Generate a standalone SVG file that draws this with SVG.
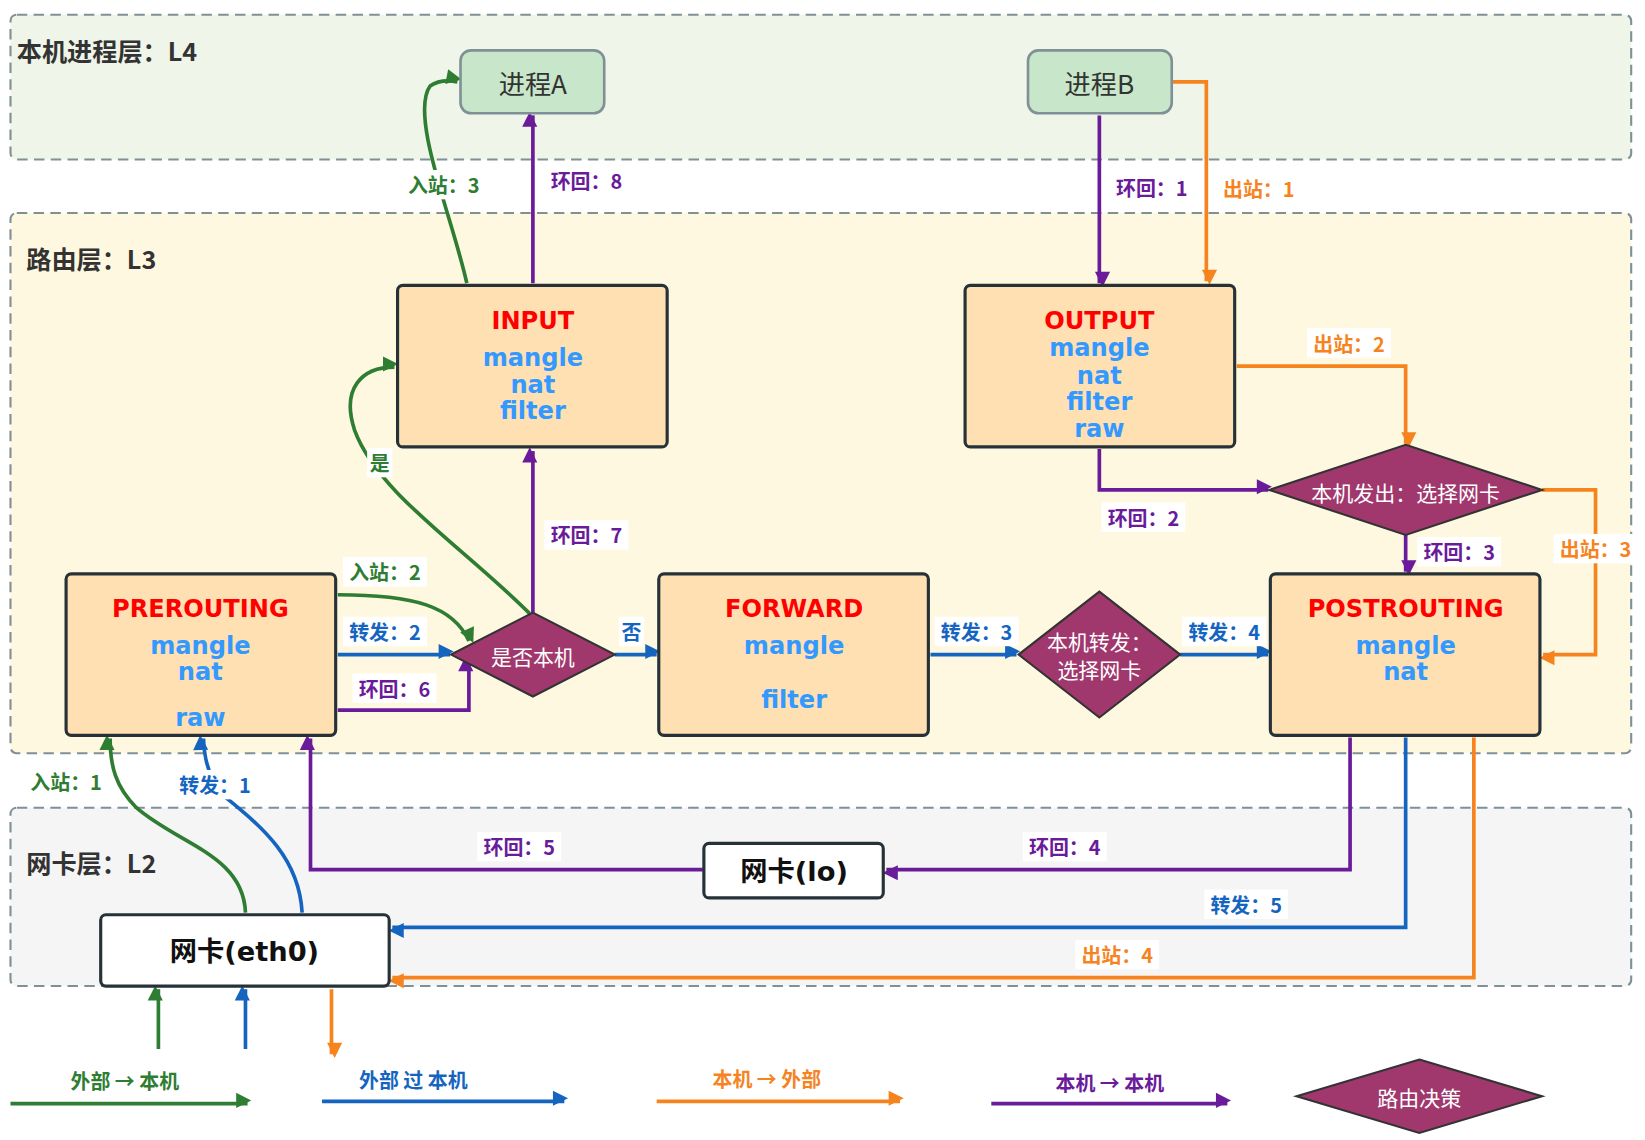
<svg xmlns="http://www.w3.org/2000/svg" width="1645" height="1140" viewBox="0 0 1645 1140">
<style>
.layer{stroke:#7f9096;stroke-width:2;stroke-dasharray:10 6}
.lt{font-family:"Noto Sans CJK SC",sans-serif;font-weight:bold;font-size:24px;fill:#333}
.box{fill:#ffe0b2;stroke:#263238;stroke-width:3}
.t{font-family:"DejaVu Sans",sans-serif;font-weight:bold;font-size:23px;text-anchor:middle;dominant-baseline:central}
.r{fill:#ff0000}.b{fill:#3399ff}
.dia{fill:#a0386e;stroke:#333;stroke-width:2}
.dt{font-family:"Noto Sans CJK SC",sans-serif;font-size:20px;fill:#fff;text-anchor:middle;dominant-baseline:central}
.lb{font-family:"Noto Sans CJK SC",sans-serif;font-weight:bold;font-size:19px;text-anchor:middle;dominant-baseline:central}
.bg{fill:#fff}
.c{fill:none;stroke-width:3.5}
.g{stroke:#2e7d32}.bl{stroke:#1565c0}.o{stroke:#f5841f}.p{stroke:#6a1b9a}
.fg{fill:#2e7d32}.fbl{fill:#1565c0}.fo{fill:#f5841f}.fp{fill:#6a1b9a}
</style>
<defs>
<marker id="ag" viewBox="0 0 10 10" refX="9" refY="5" markerWidth="6" markerHeight="6" markerUnits="userSpaceOnUse" orient="auto" style="overflow:visible"><path d="M0,0L10,5L0,10z" fill="#2e7d32" transform="scale(2.4) translate(-5,-5) translate(1.2,0)"/></marker>
<marker id="ab" viewBox="0 0 10 10" refX="9" refY="5" markerWidth="6" markerHeight="6" markerUnits="userSpaceOnUse" orient="auto" style="overflow:visible"><path d="M0,0L10,5L0,10z" fill="#1565c0" transform="scale(2.4) translate(-5,-5) translate(1.2,0)"/></marker>
<marker id="ao" viewBox="0 0 10 10" refX="9" refY="5" markerWidth="6" markerHeight="6" markerUnits="userSpaceOnUse" orient="auto" style="overflow:visible"><path d="M0,0L10,5L0,10z" fill="#f5841f" transform="scale(2.4) translate(-5,-5) translate(1.2,0)"/></marker>
<marker id="ap" viewBox="0 0 10 10" refX="9" refY="5" markerWidth="6" markerHeight="6" markerUnits="userSpaceOnUse" orient="auto" style="overflow:visible"><path d="M0,0L10,5L0,10z" fill="#6a1b9a" transform="scale(2.4) translate(-5,-5) translate(1.2,0)"/></marker>
</defs>
<rect width="1645" height="1140" fill="#fff"/>
<g transform="scale(1.049)">
<g id="layers">
<rect class="layer" x="10" y="14" width="1545" height="138" rx="6" fill="#eff5e8"/>
<text class="lt" x="16" y="58">本机进程层：L4</text>
<rect class="layer" x="10" y="203" width="1545" height="515" rx="6" fill="#fff8e1"/>
<text class="lt" x="25" y="256">路由层：L3</text>
<rect class="layer" x="10" y="770" width="1545" height="170" rx="6" fill="#f5f5f5"/>
<text class="lt" x="25" y="832">网卡层：L2</text>
</g>
<g id="connectors">
<path class="c g" d="M445,270 C432,210 390,110 410,82 Q420,75 436,78" marker-end="url(#ag)"/>
<path class="c p" d="M508,270 V110" marker-end="url(#ap)"/>
<path class="c p" d="M1048,110 V270" marker-end="url(#ap)"/>
<path class="c o" d="M1117,78 H1150 V268" marker-end="url(#ao)"/>
<path class="c o" d="M1179,349 H1340 V423" marker-end="url(#ao)"/>
<path class="c p" d="M1048,428 V467 H1209" marker-end="url(#ap)"/>
<path class="c p" d="M1340,510 V545" marker-end="url(#ap)"/>
<path class="c o" d="M1470,467 H1521 V624 H1471" marker-end="url(#ao)"/>
<path class="c bl" d="M1125,624 H1209" marker-end="url(#ab)"/>
<path class="c bl" d="M887,624 H969" marker-end="url(#ab)"/>
<path class="c bl" d="M586,624 H626" marker-end="url(#ab)"/>
<path class="c p" d="M508,584 V430" marker-end="url(#ap)"/>
<path class="c g" d="M505,585 C440,520 360,470 338,410 C325,370 345,350 376,350" marker-end="url(#ag)"/>
<path class="c g" d="M322,567 C395,567 432,578 447,611" marker-end="url(#ag)"/>
<path class="c bl" d="M322,624 H429" marker-end="url(#ab)"/>
<path class="c p" d="M322,677 H447 V629" marker-end="url(#ap)"/>
<path class="c g" d="M234,870 C232,815 170,805 130,770 C110,750 105,730 105,704" marker-end="url(#ag)"/>
<path class="c bl" d="M288,870 C285,815 245,785 215,760 Q195,740 194,704" marker-end="url(#ab)"/>
<path class="c p" d="M670,829 H296 V704" marker-end="url(#ap)"/>
<path class="c p" d="M1287,703 V829 H845" marker-end="url(#ap)"/>
<path class="c bl" d="M1340,703 V884 H374" marker-end="url(#ab)"/>
<path class="c o" d="M1405,703 V932 H374" marker-end="url(#ao)"/>
<path class="c g" d="M151,1000 V943" marker-end="url(#ag)"/>
<path class="c bl" d="M234,1000 V943" marker-end="url(#ab)"/>
<path class="c o" d="M316,943 V1005" marker-end="url(#ao)"/>
<path class="c g" d="M10,1052 H236" marker-end="url(#ag)"/>
<path class="c bl" d="M307,1050 H538" marker-end="url(#ab)"/>
<path class="c o" d="M626,1050 H858" marker-end="url(#ao)"/>
<path class="c p" d="M945,1052 H1170" marker-end="url(#ap)"/>
</g>
<g id="labels">
<rect class="bg" x="383" y="162" width="80" height="28"/><text class="lb fg" x="423" y="176">入站：3</text>
<rect class="bg" x="519" y="158" width="80" height="28"/><text class="lb fp" x="559" y="172">环回：8</text>
<rect class="bg" x="1058" y="165" width="80" height="28"/><text class="lb fp" x="1098" y="179">环回：1</text>
<rect class="bg" x="1160" y="166" width="80" height="28"/><text class="lb fo" x="1200" y="180">出站：1</text>
<rect class="bg" x="1246" y="313" width="80" height="28"/><text class="lb fo" x="1286" y="327">出站：2</text>
<rect class="bg" x="1050" y="479" width="80" height="28"/><text class="lb fp" x="1090" y="493">环回：2</text>
<rect class="bg" x="1351" y="512" width="80" height="28"/><text class="lb fp" x="1391" y="526">环回：3</text>
<rect class="bg" x="1481" y="509" width="80" height="28"/><text class="lb fo" x="1521" y="523">出站：3</text>
<rect class="bg" x="1127" y="588" width="80" height="28"/><text class="lb fbl" x="1167" y="602">转发：4</text>
<rect class="bg" x="891" y="588" width="80" height="28"/><text class="lb fbl" x="931" y="602">转发：3</text>
<rect class="bg" x="590" y="588" width="24" height="28"/><text class="lb fbl" x="602" y="602">否</text>
<rect class="bg" x="519" y="496" width="80" height="28"/><text class="lb fp" x="559" y="510">环回：7</text>
<rect class="bg" x="350" y="427" width="24" height="28"/><text class="lb fg" x="362" y="441">是</text>
<rect class="bg" x="327" y="531" width="80" height="28"/><text class="lb fg" x="367" y="545">入站：2</text>
<rect class="bg" x="327" y="588" width="80" height="28"/><text class="lb fbl" x="367" y="602">转发：2</text>
<rect class="bg" x="336" y="642" width="80" height="28"/><text class="lb fp" x="376" y="656">环回：6</text>
<rect class="bg" x="23" y="731" width="80" height="28"/><text class="lb fg" x="63" y="745">入站：1</text>
<rect class="bg" x="165" y="734" width="80" height="28"/><text class="lb fbl" x="205" y="748">转发：1</text>
<rect class="bg" x="455" y="793" width="80" height="28"/><text class="lb fp" x="495" y="807">环回：5</text>
<rect class="bg" x="975" y="793" width="80" height="28"/><text class="lb fp" x="1015" y="807">环回：4</text>
<rect class="bg" x="1148" y="848" width="80" height="28"/><text class="lb fbl" x="1188" y="862">转发：5</text>
<rect class="bg" x="1025" y="896" width="80" height="28"/><text class="lb fo" x="1065" y="910">出站：4</text>
<text class="lb fg" x="119" y="1030">外部 → 本机</text>
<text class="lb fbl" x="394" y="1029">外部 过 本机</text>
<text class="lb fo" x="731" y="1028">本机 → 外部</text>
<text class="lb fp" x="1058" y="1032">本机 → 本机</text>
</g>
<g id="procA"><rect x="439" y="48" width="137" height="60" rx="10" fill="#c8e6c9" stroke="#7f9096" stroke-width="2.5"/><text x="508" y="79" font-family="Noto Sans CJK SC,sans-serif" font-size="25" fill="#333" text-anchor="middle" dominant-baseline="central">进程A</text></g>
<g id="procB"><rect x="980" y="48" width="137" height="60" rx="10" fill="#c8e6c9" stroke="#7f9096" stroke-width="2.5"/><text x="1048" y="79" font-family="Noto Sans CJK SC,sans-serif" font-size="25" fill="#333" text-anchor="middle" dominant-baseline="central">进程B</text></g>
<g id="input"><rect class="box" x="379" y="272" width="257" height="154" rx="5"/><text class="t r" x="508" y="306">INPUT</text><text class="t b" x="508" y="341">mangle</text><text class="t b" x="508" y="367">nat</text><text class="t b" x="508" y="392">filter</text></g>
<g id="output"><rect class="box" x="920" y="272" width="257" height="154" rx="5"/><text class="t r" x="1048" y="306">OUTPUT</text><text class="t b" x="1048" y="332">mangle</text><text class="t b" x="1048" y="358">nat</text><text class="t b" x="1048" y="383">filter</text><text class="t b" x="1048" y="409">raw</text></g>
<g id="prerouting"><rect class="box" x="63" y="547" width="257" height="154" rx="5"/><text class="t r" x="191" y="581">PREROUTING</text><text class="t b" x="191" y="616">mangle</text><text class="t b" x="191" y="641">nat</text><text class="t b" x="191" y="684">raw</text></g>
<g id="forward"><rect class="box" x="628" y="547" width="257" height="154" rx="5"/><text class="t r" x="757" y="581">FORWARD</text><text class="t b" x="757" y="616">mangle</text><text class="t b" x="757" y="667">filter</text></g>
<g id="postrouting"><rect class="box" x="1211" y="547" width="257" height="154" rx="5"/><text class="t r" x="1340" y="581">POSTROUTING</text><text class="t b" x="1340" y="616">mangle</text><text class="t b" x="1340" y="641">nat</text></g>
<g id="isLocal"><path class="dia" d="M508,584 L586,624 L508,664 L430,624Z"/><text class="dt" x="508" y="625">是否本机</text></g>
<g id="fwdRoute"><path class="dia" d="M1048,564 L1125,624 L1048,684 L971,624Z"/><text class="dt" x="1048" y="611">本机转发：</text><text class="dt" x="1048" y="638">选择网卡</text></g>
<g id="outRoute"><path class="dia" d="M1340,424 L1470,467 L1340,510 L1210,467Z"/><text class="dt" x="1340" y="469">本机发出：选择网卡</text></g>
<g id="lo"><rect x="671" y="804" width="171" height="52" rx="5" fill="#fff" stroke="#263238" stroke-width="3"/><text x="757" y="831" font-family="DejaVu Sans,Noto Sans CJK SC,sans-serif" font-weight="bold" font-size="26" fill="#111" text-anchor="middle" dominant-baseline="central">网卡(lo)</text></g>
<g id="eth0"><rect x="96" y="872" width="275" height="68" rx="5" fill="#fff" stroke="#263238" stroke-width="3"/><text x="233" y="907" font-family="DejaVu Sans,Noto Sans CJK SC,sans-serif" font-weight="bold" font-size="26" fill="#111" text-anchor="middle" dominant-baseline="central">网卡(eth0)</text></g>
<g id="legendRoute"><path class="dia" d="M1353,1010 L1470,1045 L1353,1080 L1236,1045Z"/><text class="dt" x="1353" y="1046">路由决策</text></g>
</g>
</svg>
